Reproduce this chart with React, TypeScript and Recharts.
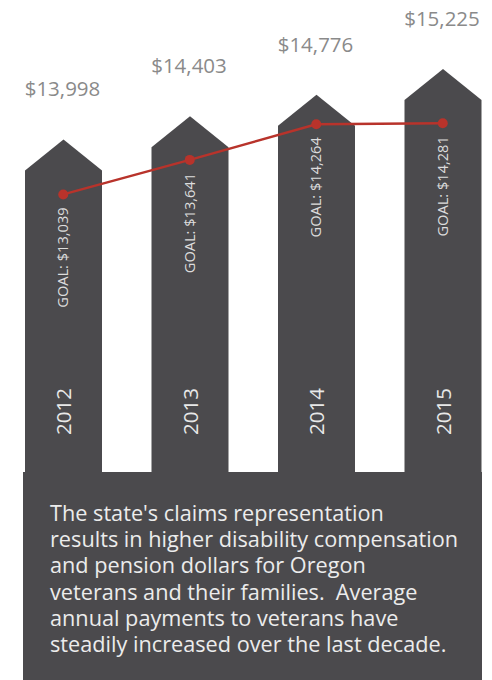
import { ComposedChart, Bar, Line, XAxis, YAxis, LabelList } from "recharts";

const years = ["2012", "2013", "2014", "2015"];
const payments = [13998, 14403, 14776, 15225];
const goals = [13039, 13641, 14264, 14281];
const paymentLabels = ["$13,998", "$14,403", "$14,776", "$15,225"];
const goalLabels = ["GOAL: $13,039", "GOAL: $13,641", "GOAL: $14,264", "GOAL: $14,281"];

const blurb = [
  "The state's claims representation",
  "results in higher disability compensation",
  "and pension dollars for Oregon",
  "veterans and their families.  Average",
  "annual payments to veterans have",
  "steadily increased over the last decade.",
];

const data = years.map((year, i) => ({
  year,
  payment: payments[i],
  goal: goals[i],
  paymentLabel: paymentLabels[i],
  goalLabel: goalLabels[i],
}));

const DARK = "#4b4a4d";
const RED = "#b8332b";
const FONT = "'Open Sans', Lato, sans-serif";

// bar drawn as an arrow / house shape pointing up
function ArrowBar(props: any) {
  const { x, y, width, height, fill } = props;
  const roof = 31;
  const d = `M${x},${y + roof} L${x + width / 2},${y} L${x + width},${y + roof} L${x + width},${y + height} L${x},${y + height} Z`;
  return <path d={d} fill={fill} />;
}

function PaymentLabel(props: any) {
  const { x, y, width, value } = props;
  return (
    <text x={x + width / 2 - 1} y={y - 43} textAnchor="middle" fill="#8a8a8a" fontSize={20.5} fontFamily={FONT}>
      {value}
    </text>
  );
}

function YearLabel(props: any) {
  const { x, y, width, height, value } = props;
  const cx = x + width / 2 + 7.5;
  const cy = y + height - 38;
  return (
    <text x={cx} y={cy} transform={`rotate(-90 ${cx} ${cy})`} textAnchor="start" fill="#e8e8e8" fontSize={20.5} fontFamily={FONT}>
      {value}
    </text>
  );
}

function GoalLabel(props: any) {
  const { x, y, value } = props;
  const cx = x + 5;
  const cy = y + 13;
  return (
    <text x={cx} y={cy} transform={`rotate(-90 ${cx} ${cy})`} textAnchor="end" fill="#dcdcdc" fontSize={14.6} fontFamily={FONT}>
      {value}
    </text>
  );
}

export default function App() {
  return (
    <div
      style={{
        position: "absolute",
        left: 0,
        top: 0,
        width: 492,
        height: 680,
        overflow: "hidden",
        background: "#ffffff",
        fontFamily: FONT,
      }}
    >
      <ComposedChart width={506} height={473} data={data} margin={{ top: 0, right: 0, bottom: 0, left: 0 }}>
        <XAxis dataKey="year" type="category" hide />
        <YAxis type="number" domain={[8180, 16430]} allowDataOverflow hide />
        <Bar dataKey="payment" fill={DARK} barSize={77} shape={<ArrowBar />} isAnimationActive={false}>
          <LabelList dataKey="paymentLabel" content={<PaymentLabel />} />
          <LabelList dataKey="year" content={<YearLabel />} />
        </Bar>
        <Line
          dataKey="goal"
          type="linear"
          stroke={RED}
          strokeWidth={2.5}
          dot={{ r: 5, fill: RED, stroke: "none" }}
          activeDot={false}
          isAnimationActive={false}
        >
          <LabelList dataKey="goalLabel" content={<GoalLabel />} />
        </Line>
      </ComposedChart>
      <div
        style={{
          position: "absolute",
          left: 23,
          top: 472,
          width: 459,
          height: 208,
          background: DARK,
          color: "#ececec",
          fontSize: 21.7,
          lineHeight: "26.2px",
          paddingLeft: 27,
          paddingTop: 28,
          boxSizing: "border-box",
          whiteSpace: "pre",
        }}
      >
        {blurb.map((line, i) => (
          <div key={i}>{line}</div>
        ))}
      </div>
    </div>
  );
}
